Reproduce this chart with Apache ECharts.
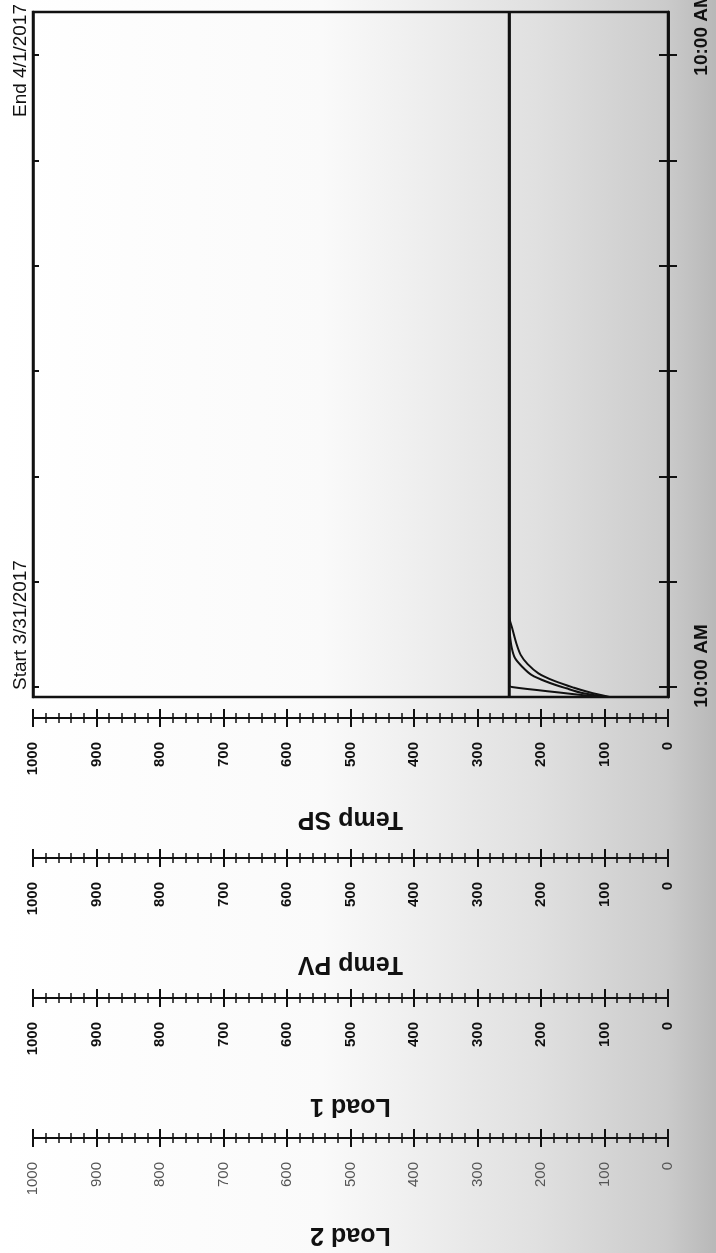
<!DOCTYPE html>
<html>
<head>
<meta charset="utf-8">
<script src="https://cdn.jsdelivr.net/npm/echarts@6/dist/echarts.min.js"></script>
<style>
  html, body { margin: 0; padding: 0; background: #fff; }
  #grafico { width: 716px; height: 1253px; }
</style>
</head>
<body>
<div id="grafico"></div>
<script>
// Datos: tiempo en horas desde 3/31/2017 10:00 AM
const tiempoInicio = -0.38;
const tiempoFin = 25.63;
const marcasTiempo = [0, 4, 8, 12, 16, 20, 24];
const etiquetasTiempo = [0, 24];

const nombresEjes = ['Temp SP', 'Temp PV', 'Load 1', 'Load 2'];
const ticksValor = [0, 100, 200, 300, 400, 500, 600, 700, 800, 900, 1000];

const spTiempo = [-0.38, 25.63];
const spValor = [250, 250];

const pvTiempo = [-0.38, -0.24, -0.05, 0.20, 0.46, 0.78, 1.10, 1.48, 1.99, 2.40, 25.63];
const pvValor = [95, 133, 160, 191, 215, 230, 241, 246, 249, 250, 250];

const load1Tiempo = [-0.38, -0.20, -0.03, 0.23, 0.52, 0.87, 1.22, 1.67, 2.20, 2.70, 25.63];
const load1Valor = [92, 124, 148, 179, 204, 221, 232, 239, 245, 250, 250];

const load2Tiempo = [-0.38, 0.00, 0.08, 25.63];
const load2Valor = [105, 246, 250, 250];

// PROCESAMIENTO
function armarSerie(tiempos, valores) {
    return tiempos.map((t, i) => [valores[i], t]);
}

// Ejes de valor (cada uno dos veces: marcas hacia afuera y hacia adentro)
function crearEjesValor() {
    const desplazamientos = [21, 161, 301, 441];
    const separacionNombre = [88, 93, 95, 84];
    const ejes = [];
    nombresEjes.forEach((nombre, i) => {
        const ultimo = i === nombresEjes.length - 1;
        const base = {
            type: 'value',
            position: 'bottom',
            offset: desplazamientos[i],
            min: ticksValor[0],
            max: ticksValor[ticksValor.length - 1],
            interval: ticksValor[1] - ticksValor[0],
            inverse: true,
            splitLine: { show: false },
            axisLine: { show: true, onZero: false, lineStyle: { color: '#111', width: 2 } }
        };
        ejes.push(Object.assign({}, base, {
            name: nombre,
            nameLocation: 'middle',
            nameGap: separacionNombre[i],
            nameRotate: 180,
            nameTextStyle: { fontSize: 25, fontWeight: 'bold', color: '#111', fontFamily: 'Liberation Sans' },
            axisTick: { show: true, length: 9, lineStyle: { color: '#111', width: 2 } },
            minorTick: { show: true, splitNumber: 5, length: 5, lineStyle: { color: '#111', width: 1.5 } },
            axisLabel: {
                rotate: 90,
                margin: 24,
                fontSize: 15,
                fontWeight: ultimo ? 'normal' : 'bold',
                color: ultimo ? '#555' : '#111',
                fontFamily: 'Liberation Sans',
                hideOverlap: false,
                formatter: v => String(v)
            }
        }));
        ejes.push(Object.assign({}, base, {
            axisTick: { show: true, inside: true, length: 9, lineStyle: { color: '#111', width: 2 } },
            minorTick: { show: true, splitNumber: 5, length: 5, lineStyle: { color: '#111', width: 1.5 } },
            axisLabel: { show: false }
        }));
    });
    return ejes;
}

// Ejes de tiempo
function crearEjesTiempo() {
    const base = {
        type: 'value',
        min: tiempoInicio,
        max: tiempoFin,
        splitLine: { show: false },
        axisLine: { show: true, onZero: false, lineStyle: { color: '#111', width: 2.5 } }
    };
    return [
        Object.assign({}, base, {
            position: 'right',
            axisTick: { show: true, customValues: marcasTiempo, length: 9, lineStyle: { color: '#111', width: 2 } },
            axisLabel: {
                show: true,
                customValues: etiquetasTiempo,
                formatter: () => '10:00 AM',
                rotate: 90,
                margin: 24,
                padding: [0, 0, 0, 42],
                fontSize: 19,
                fontWeight: 'bold',
                color: '#111',
                fontFamily: 'Liberation Sans'
            }
        }),
        Object.assign({}, base, {
            position: 'right',
            axisTick: { show: true, inside: true, customValues: marcasTiempo, length: 9, lineStyle: { color: '#111', width: 2 } },
            axisLabel: { show: false }
        }),
        Object.assign({}, base, {
            position: 'left',
            axisTick: { show: true, inside: true, customValues: marcasTiempo, length: 6, lineStyle: { color: '#111', width: 2 } },
            axisLabel: { show: false }
        })
    ];
}

function crearGrafico() {
    const linea = (nombre, datos, ancho) => ({
        name: nombre,
        type: 'line',
        xAxisIndex: 0,
        yAxisIndex: 0,
        showSymbol: false,
        smooth: 0.3,
        lineStyle: { color: '#111', width: ancho },
        data: datos
    });
    return {
        animation: false,
        graphic: [
            {
                type: 'rect', z: -10, silent: true,
                shape: { x: 0, y: 0, width: 716, height: 1253 },
                style: {
                    fill: new echarts.graphic.LinearGradient(0, 0, 1, 0, [
                        { offset: 0, color: '#ffffff' },
                        { offset: 0.45, color: '#fafafa' },
                        { offset: 0.75, color: '#e0e0e0' },
                        { offset: 0.93, color: '#cbcbcb' },
                        { offset: 1, color: '#b8b8b8' }
                    ])
                }
            },
            {
                type: 'text', rotation: Math.PI / 2, x: 21, y: 690,
                style: { text: 'Start 3/31/2017', font: '19px "Liberation Sans"', fill: '#111', align: 'left', verticalAlign: 'middle' }
            },
            {
                type: 'text', rotation: Math.PI / 2, x: 21, y: 4,
                style: { text: 'End 4/1/2017', font: '19px "Liberation Sans"', fill: '#111', align: 'right', verticalAlign: 'middle' }
            }
        ],
        grid: {
            left: 33, right: 48, top: 12, bottom: 556,
            outerBoundsMode: 'none',
            show: true, borderColor: '#111', borderWidth: 2.5, backgroundColor: 'transparent'
        },
        xAxis: crearEjesValor(),
        yAxis: crearEjesTiempo(),
        series: [
            linea('Temp SP', armarSerie(spTiempo, spValor), 3),
            linea('Temp PV', armarSerie(pvTiempo, pvValor), 2),
            linea('Load 1', armarSerie(load1Tiempo, load1Valor), 2),
            linea('Load 2', armarSerie(load2Tiempo, load2Valor), 2)
        ]
    };
}

const grafico = echarts.init(document.getElementById('grafico'), null, { renderer: 'canvas' });
grafico.setOption(crearGrafico());
</script>
</body>
</html>
